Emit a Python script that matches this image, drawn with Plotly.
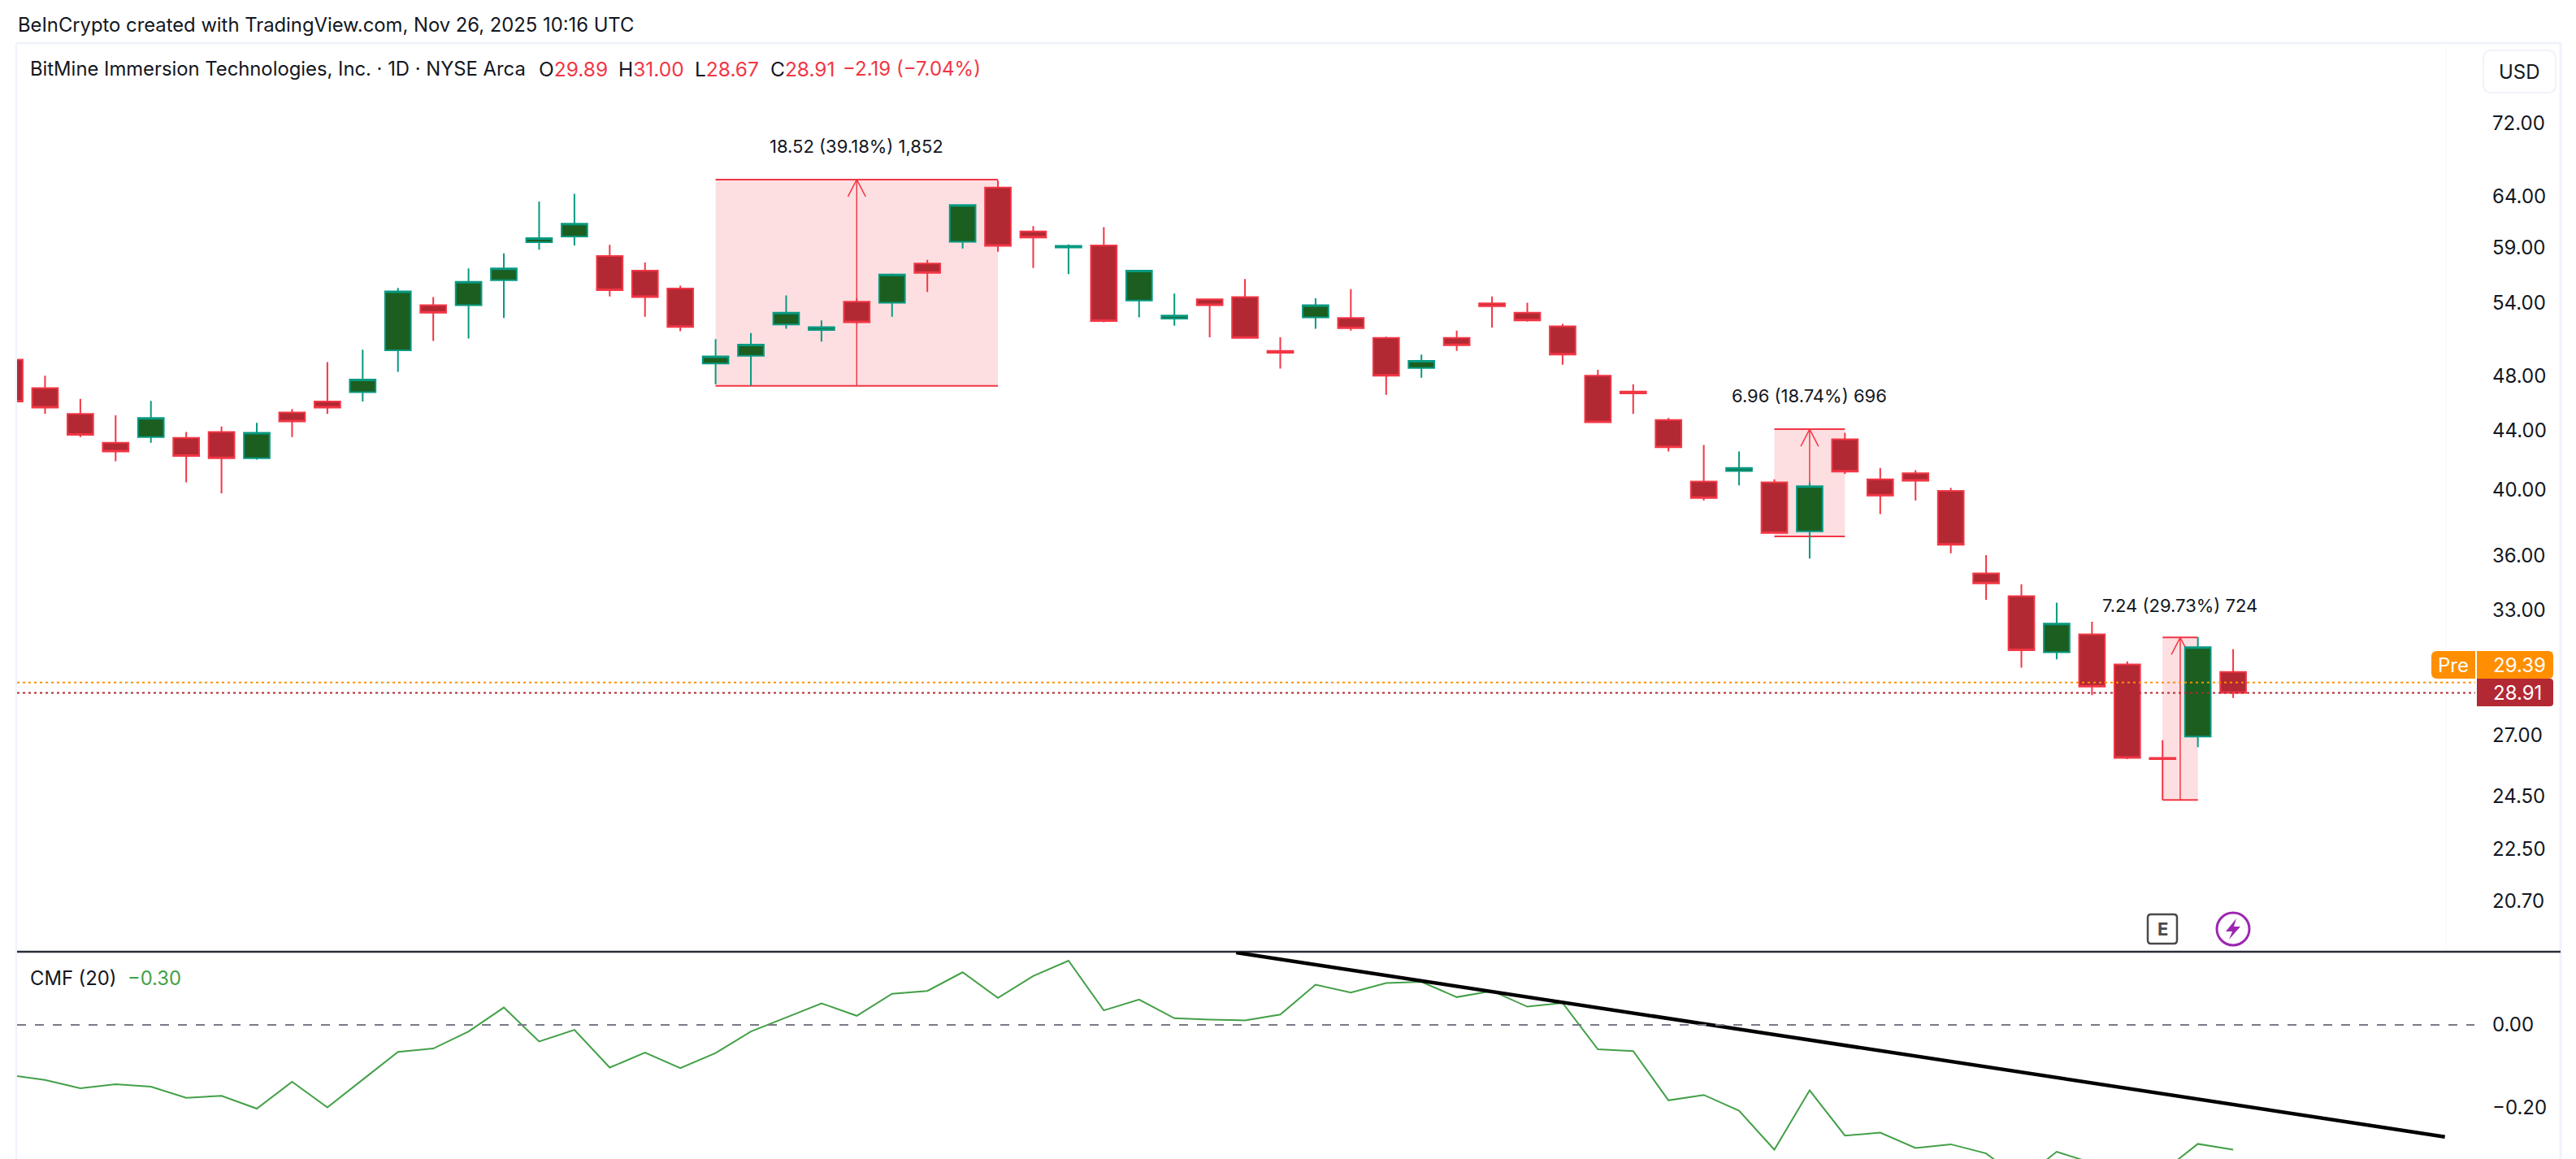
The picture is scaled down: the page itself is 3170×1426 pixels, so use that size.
import math
import plotly.graph_objects as go

W, H = 3170, 1426

# daily bars
bars = list(range(64))
opens = [49.3, 47.1, 45.2, 43.15, 43.55, 43.5, 43.9, 42.1, 45.3, 46.1, 46.8, 50.05, 53.8, 53.8, 56.0, 59.5,
         60.05, 58.2, 56.85, 55.25, 49.0, 49.6, 52.15, 51.7, 54.1, 54.0, 57.5, 59.55, 64.95, 60.55, 59.0, 59.2,
         54.2, 52.65, 54.3, 54.5, 50.0, 52.75, 52.7, 51.05, 48.65, 51.05, 53.95, 53.15, 52.0, 48.05, 46.85, 44.75,
         40.55, 41.25, 40.5, 37.45, 43.4, 40.7, 41.1, 39.95, 35.0, 33.75, 30.85, 31.75, 30.25, 26.05, 26.95, 29.89]
highs = [49.4, 48.05, 46.3, 45.1, 46.15, 43.9, 44.3, 44.55, 45.55, 49.1, 50.1, 55.3, 54.5, 57.05, 58.45, 63.5,
         64.3, 59.25, 57.6, 55.5, 50.95, 51.45, 54.65, 52.5, 54.4, 56.6, 57.85, 63.25, 65.7, 61.05, 59.3, 60.95,
         56.9, 54.8, 54.35, 56.1, 51.1, 54.4, 55.2, 51.15, 49.7, 51.65, 54.55, 54.0, 52.2, 48.5, 47.4, 44.9,
         43.0, 42.55, 40.7, 40.5, 43.85, 41.45, 41.3, 40.15, 36.05, 34.4, 33.4, 32.4, 30.4, 26.8, 31.6, 31.0]
lows = [46.0, 45.2, 43.55, 41.9, 43.15, 40.5, 39.8, 42.0, 43.55, 45.2, 46.1, 48.35, 50.8, 51.0, 52.7, 58.8,
        59.2, 54.55, 52.8, 51.6, 47.4, 47.3, 51.8, 50.75, 52.2, 52.8, 54.95, 58.9, 58.6, 57.1, 56.55, 52.35,
        52.75, 52.05, 51.1, 51.0, 48.6, 51.8, 51.65, 46.6, 47.9, 50.0, 51.9, 52.4, 48.9, 44.6, 45.2, 42.55,
        39.35, 40.3, 37.3, 35.85, 41.05, 38.5, 39.35, 36.15, 33.55, 30.1, 30.5, 28.8, 26.0, 24.35, 26.5, 28.67]
closes = [46.1, 45.65, 43.7, 42.55, 44.9, 42.25, 42.1, 43.85, 44.65, 45.65, 47.75, 55.0, 53.15, 55.85, 57.05, 59.9,
          61.3, 55.1, 54.5, 51.95, 49.55, 50.5, 53.15, 51.93, 52.35, 56.5, 56.65, 63.15, 59.15, 59.95, 59.15, 52.45,
          56.85, 52.9, 53.8, 51.05, 49.85, 53.8, 51.85, 48.05, 49.2, 50.45, 53.7, 52.5, 49.7, 44.6, 46.7, 42.85,
          39.5, 41.45, 37.35, 40.25, 41.2, 39.65, 40.6, 36.65, 34.45, 30.95, 32.3, 29.2, 26.05, 26.0, 31.1, 28.91]

cmf = [-0.121, -0.133, -0.153, -0.143, -0.149, -0.176, -0.171, -0.202, -0.137, -0.199, -0.132, -0.065, -0.057,
       -0.016, 0.042, -0.040, -0.012, -0.103, -0.067, -0.104, -0.068, -0.016, 0.018, 0.052, 0.022, 0.075, 0.082,
       0.127, 0.065, 0.118, 0.155, 0.035, 0.061, 0.016, 0.013, 0.011, 0.025, 0.097, 0.078, 0.101, 0.104, 0.067,
       0.082, 0.044, 0.053, -0.059, -0.063, -0.182, -0.169, -0.207, -0.301, -0.158, -0.267, -0.260, -0.297,
       -0.288, -0.310, -0.374, -0.306, -0.333, -0.351, -0.354, -0.287, -0.301]

# hand drawn trend line on the CMF pane
trend_x = [34.75, 69.0]
trend_y = [0.1745, -0.27]

price_ticks = [72, 64, 59, 54, 48, 44, 40, 36, 33, 27, 24.5, 22.5, 20.7]
price_labels = ["72.00", "64.00", "59.00", "54.00", "48.00", "44.00", "40.00", "36.00", "33.00", "27.00",
                "24.50", "22.50", "20.70"]
cmf_ticks = [0, -0.2]
cmf_labels = ["0.00", "\u22120.20"]

# measure tools: left bar, right bar, arrow bar, low, high, label
ranges = [
    (20, 28, 24, 47.27, 65.79, "18.52 (39.18%) 1,852"),
    (50, 52, 51, 37.14, 44.10, "6.96 (18.74%) 696"),
    (61, 62, 61.5, 24.35, 31.59, "7.24 (29.73%) 724"),
]

RED = "#F23645"
TEAL = "#089981"
DARK_RED = "#B22833"
DARK_GREEN = "#1B5E20"
CMF_GREEN = "#43A047"
INK = "#131722"
FRAME = "#F0F3FA"
ORANGE = "#FF8F00"
FONT = "Inter"


def px(x):
    return x / W


def py(y):
    return 1 - y / H


def round_rect(x0, y0, x1, y1, r_left=8, r_right=8):
    # rounded box in page pixels, as a paper path
    pts = [
        f"M {px(x0 + r_left)} {py(y0)}",
        f"L {px(x1 - r_right)} {py(y0)}",
        f"Q {px(x1)} {py(y0)} {px(x1)} {py(y0 + r_right)}",
        f"L {px(x1)} {py(y1 - r_right)}",
        f"Q {px(x1)} {py(y1)} {px(x1 - r_right)} {py(y1)}",
        f"L {px(x0 + r_left)} {py(y1)}",
        f"Q {px(x0)} {py(y1)} {px(x0)} {py(y1 - r_left)}",
        f"L {px(x0)} {py(y0 + r_left)}",
        f"Q {px(x0)} {py(y0)} {px(x0 + r_left)} {py(y0)} Z",
    ]
    return " ".join(pts)


fig = go.Figure()

fig.add_trace(go.Candlestick(
    x=bars, open=opens, high=highs, low=lows, close=closes,
    increasing=dict(line=dict(color=TEAL, width=2), fillcolor=DARK_GREEN),
    decreasing=dict(line=dict(color=RED, width=2), fillcolor=DARK_RED),
    whiskerwidth=0, showlegend=False, xaxis="x", yaxis="y",
))
fig.add_trace(go.Scatter(x=bars, y=cmf, mode="lines", line=dict(color=CMF_GREEN, width=2),
                         showlegend=False, xaxis="x2", yaxis="y2"))
fig.add_trace(go.Scatter(x=trend_x, y=trend_y, mode="lines", line=dict(color="#000000", width=4.5),
                         showlegend=False, xaxis="x2", yaxis="y2"))

shapes = []
annotations = []

# chart frame and pane divider
for x0, y0, x1, y1, col, w in [
    (20, 53, 20, H, FRAME, 2), (20, 53, 3151, 53, FRAME, 3), (3151, 53, 3151, H, FRAME, 3),
    (3010, 53, 3010, 1171, "#F8F9FD", 1), (21, 1171, 3151, 1171, "#2A2E39", 2.5),
]:
    shapes.append(dict(type="line", xref="paper", yref="paper", x0=px(x0), x1=px(x1), y0=py(y0), y1=py(y1),
                       line=dict(color=col, width=w), layer="below"))

# measure tools
for left, right, mid, low, high, label in ranges:
    shapes.append(dict(type="rect", xref="x", yref="y", x0=left, x1=right, y0=low, y1=high,
                       fillcolor="rgba(242,54,69,0.16)", line_width=0, layer="below"))
    for level in (low, high):
        shapes.append(dict(type="line", xref="x", yref="y", x0=left, x1=right, y0=level, y1=level,
                           line=dict(color=RED, width=2), layer="below"))
    shapes.append(dict(type="line", xref="x", yref="y", x0=mid, x1=mid, y0=low, y1=high,
                       line=dict(color=RED, width=1.5), layer="below"))
    # open arrow head, about 11 px either side and 21 px down
    for dx in (-0.25, 0.25):
        shapes.append(dict(type="line", xref="x", yref="y", x0=mid, x1=mid + dx, y0=high,
                           y1=high * math.exp(-21 / 768),
                           line=dict(color=RED, width=1.5), layer="below"))

# pre market and last price lines
shapes.append(dict(type="line", xref="paper", yref="y", x0=px(21), x1=px(3046), y0=29.39, y1=29.39,
                   line=dict(color=ORANGE, width=2, dash="3px,4px")))
shapes.append(dict(type="line", xref="paper", yref="y", x0=px(21), x1=px(3046), y0=28.91, y1=28.91,
                   line=dict(color=DARK_RED, width=2, dash="3px,4px")))
# zero line of the CMF pane
shapes.append(dict(type="line", xref="paper", yref="y2", x0=px(21), x1=px(3045), y0=0, y1=0,
                   line=dict(color="#787B86", width=2, dash="11px,11px")))

# price labels on the scale
shapes.append(dict(type="path", xref="paper", yref="paper", path=round_rect(2992, 801, 3046, 835, 7, 0),
                   fillcolor=ORANGE, line_width=0))
shapes.append(dict(type="path", xref="paper", yref="paper", path=round_rect(3048, 801, 3142, 835, 0, 6),
                   fillcolor=ORANGE, line_width=0))
shapes.append(dict(type="path", xref="paper", yref="paper", path=round_rect(3048, 835, 3142, 869, 0, 4),
                   fillcolor=DARK_RED, line_width=0))
# currency box
shapes.append(dict(type="path", xref="paper", yref="paper", path=round_rect(3056, 62, 3145, 114, 10, 10),
                   fillcolor="#FFFFFF", line=dict(color=FRAME, width=2)))
# earnings badge
shapes.append(dict(type="path", xref="paper", yref="paper", path=round_rect(2643, 1125, 2679, 1161, 4, 4),
                   fillcolor="#FFFFFF", line=dict(color="#4A4A4A", width=2.5)))
# dividend style badge with bolt
shapes.append(dict(type="circle", xref="paper", yref="paper", x0=px(2728), x1=px(2768), y0=py(1123), y1=py(1163),
                   fillcolor="#FFFFFF", line=dict(color="#9C27B0", width=3)))
bolt = [(2752, 1130), (2739, 1146), (2747, 1146), (2743, 1156), (2757, 1140), (2749, 1140)]
shapes.append(dict(type="path", xref="paper", yref="paper", line_width=0, fillcolor="#9C27B0",
                   path="M " + " L ".join(f"{px(x)} {py(y)}" for x, y in bolt) + " Z"))


def text(x, y, s, size=24, color=INK, anchor="left"):
    annotations.append(dict(xref="paper", yref="paper", x=px(x), y=py(y), text=s, showarrow=False,
                            xanchor=anchor, yanchor="middle", align=anchor,
                            font=dict(family=FONT, size=size, color=color)))


def red(s):
    return f'<span style="color:{RED}">{s}</span>'


text(20, 31, "BeInCrypto created with TradingView.com, Nov 26, 2025 10:16 UTC", size=23.8)
text(35, 85, "BitMine Immersion Technologies, Inc. \u00b7 1D \u00b7 NYSE Arca", size=23.8)
text(661, 85, "O" + red("29.89"), size=24.5)
text(759, 85, "H" + red("31.00"), size=24.5)
text(853, 85, "L" + red("28.67"), size=24.5)
text(946, 85, "C" + red("28.91"), size=24.5)
text(1035, 85, red("\u22122.19 (\u22127.04%)"), size=24)
text(35, 1203, f'CMF (20)\u00a0\u00a0<span style="color:{CMF_GREEN}">\u22120.30</span>', size=23.8)
text(3100, 88, "USD", anchor="center")
text(1054, 180, ranges[0][5], size=22, anchor="center")
text(2226, 487, ranges[1][5], size=22, anchor="center")
text(2682, 745, ranges[2][5], size=22, anchor="center")
text(3019, 818, "Pre", color="#FFFFFF", anchor="center")
text(3066, 818, "29.39", color="#FFFFFF")
text(3066, 852, "28.91", color="#FFFFFF")
text(2661, 1143, "<b>E</b>", size=22, color="#4A4A4A", anchor="center")

x_span = [(21 - 12) / 43.43, (3047 - 12) / 43.43]
pane_split = (H - 1171) / H
axis_style = dict(side="right", showgrid=False, zeroline=False, showline=False, ticks="",
                  ticklabelstandoff=19, tickfont=dict(family=FONT, size=24, color=INK), tickmode="array")

fig.update_layout(
    width=W, height=H, margin=dict(l=0, r=0, t=0, b=0), autosize=False,
    paper_bgcolor="#FFFFFF", plot_bgcolor="#FFFFFF", showlegend=False, boxgap=0.27, boxgroupgap=0,
    xaxis=dict(domain=[px(21), px(3047)], range=x_span, visible=False, rangeslider=dict(visible=False),
               anchor="y"),
    xaxis2=dict(domain=[px(21), px(3047)], range=x_span, visible=False, anchor="y2"),
    yaxis=dict(domain=[pane_split, py(53)], type="log", range=[1.2809, 1.9131], anchor="x",
               tickvals=price_ticks, ticktext=price_labels, **axis_style),
    yaxis2=dict(domain=[0, pane_split], range=[-0.3235, 0.1765], anchor="x2",
                tickvals=cmf_ticks, ticktext=cmf_labels, **axis_style),
    shapes=shapes, annotations=annotations,
)

fig.write_html("out.html", post_script="document.body.style.margin='0';", config={"displayModeBar": False})
